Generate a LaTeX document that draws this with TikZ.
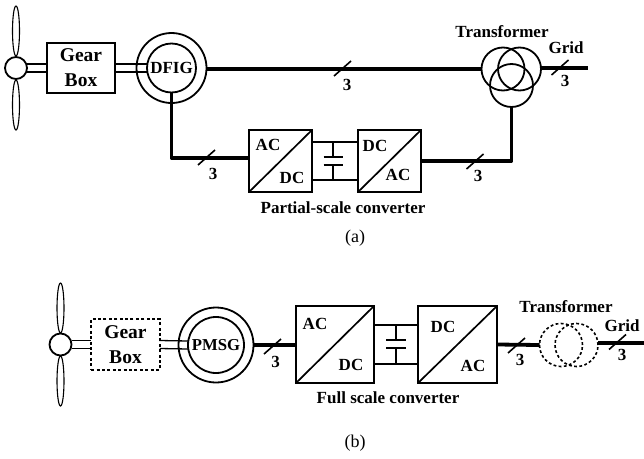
\documentclass[tikz,border=0pt]{standalone}
\usepackage{fontspec}
\setmainfont{Liberation Serif}
\newcommand{\ticknode}[2]{%
  \coordinate (#1) at #2;
  \draw[tickline] ([shift={(-8.5pt,-7.5pt)}]#1) -- ([shift={(8.5pt,7.5pt)}]#1);}
\tikzset{
  thin line/.style={line width=1.7pt},
  tickline/.style={line width=1.6pt},
  shaft/.style={line width=1.3pt},
  power/.style={line width=3.8pt},
  ring/.style={circle,draw,line width=1.8pt,inner sep=0pt,outer sep=0pt},
  dashring/.style={ring,line width=1.6pt,dash pattern=on 2.8pt off 2.4pt},
  blade/.style={ellipse,draw,line width=1.1pt,minimum width=7pt,minimum height=50pt,inner sep=0pt,outer sep=0pt},
  boxn/.style={rectangle,draw,line width=1.8pt,inner sep=0pt,outer sep=0pt,align=center},
  label/.style={font=\fontsize{17}{25}\selectfont\bfseries,inner sep=0pt,align=center},
  caption/.style={font=\fontsize{18}{20}\selectfont,inner sep=0pt}
}
\usetikzlibrary{shapes.geometric}
\begin{document}
\begin{tikzpicture}[x=1pt,y=-1pt]
\useasboundingbox (0,0) rectangle (644,458);
%%% (a)
\node[blade] (bat) at (16,31) {};
\node[blade] (bab) at (16,105) {};
\node[ring,minimum size=22pt] (huba) at (16,68) {};
\node[boxn,minimum width=68pt,minimum height=50pt,font=\fontsize{19.5}{25}\selectfont\bfseries] (gba) at (81,68) {Gear\\Box};
\node[ring,minimum size=70pt] (outa) at (171.5,68) {};
\node[ring,minimum size=49pt,font=\fontsize{17}{20}\selectfont\bfseries] (dfig) at (171.5,68) {DFIG};
\draw[shaft] ([yshift=4pt]huba.east) -- ([yshift=4pt]gba.west);
\draw[shaft] ([yshift=-4pt]huba.east) -- ([yshift=-4pt]gba.west);
\draw[shaft] ([yshift=4pt]gba.east) -- ([yshift=4pt]dfig.west);
\draw[shaft] ([yshift=-4pt]gba.east) -- ([yshift=-4pt]dfig.west);
\node[ring,minimum size=43pt] (tl) at (503,69) {};
\node[ring,minimum size=43pt] (tr) at (519.5,69) {};
\node[ring,minimum size=43pt] (tb) at (511.5,85.5) {};
\coordinate (grida) at (588,68);
\draw[power] (outa.east |- tl.west) -- (tl.west);
\draw[power] (tr.east |- grida) -- (grida);
\node[boxn,minimum width=63pt,minimum height=62pt] (c1) at (280.5,161) {};
\node[boxn,minimum width=63pt,minimum height=62pt] (c2) at (389.5,161) {};
\draw[thin line] (c1.south west) -- (c1.north east);
\draw[thin line] (c2.south west) -- (c2.north east);
\coordinate (c1in) at ([yshift=3pt]c1.west);
\draw[power,line join=round] (dfig.south) -- (dfig.south |- c1in) -- (c1in);
\draw[power,line join=round] (c2.east) -- (c2.east -| tb.south) -- (tb.south);
\draw[thin line] ([yshift=19pt]c1.east) -- ([yshift=19pt]c2.west);
\draw[thin line] ([yshift=-19pt]c1.east) -- ([yshift=-19pt]c2.west);
\coordinate (capat) at (333,142);
\coordinate (capab) at (333,180);
\coordinate (capa1) at (333,157);
\coordinate (capa2) at (333,165);
\draw[thin line] (capat) -- (capa1);
\draw[thin line] (capab) -- (capa2);
\draw[thin line] ([xshift=-9.5pt]capa1) -- ([xshift=9.5pt]capa1);
\draw[thin line] ([xshift=-9.5pt]capa2) -- ([xshift=9.5pt]capa2);
\ticknode{ta1}{(342.5,68.5)}
\ticknode{ta2}{(560,67.5)}
\ticknode{ta3}{(206.5,157.5)}
\ticknode{ta4}{(475,161.5)}
\node[label] (n1) at (347,85) {3};
\node[label] (n2) at (565,81) {3};
\node[label] (n3) at (213,174) {3};
\node[label] (n4) at (478,176) {3};
\node[label] (ac1) at (268,145) {AC};
\node[label] (dc1) at (292,178) {DC};
\node[label] (dc2) at (375,146) {DC};
\node[label] (ac2) at (398,175) {AC};
\node[label] (tfa) at (502,32) {Transformer};
\node[label] (gra) at (566,48) {Grid};
\node[label] (pc) at (343,208) {Partial-scale converter};
\node[caption] (capA) at (355,238) {(a)};
%%% (b)
\node[blade] (bbt) at (60.5,308) {};
\node[blade] (bbb) at (60.5,381) {};
\node[ring,minimum size=22pt] (hubb) at (60.5,344.5) {};
\node[boxn,dash pattern=on 3pt off 2.4pt,minimum width=68.5pt,minimum height=51pt,font=\fontsize{19.5}{25}\selectfont\bfseries] (gbb) at (125.5,344.5) {Gear\\Box};
\node[ring,minimum size=75pt] (outb) at (216,345) {};
\node[ring,minimum size=56pt,font=\fontsize{16.7}{20}\selectfont\bfseries] (pmsg) at (216,345) {PMSG};
\draw[shaft] ([yshift=4pt]hubb.east) -- ([yshift=4pt]gbb.west);
\draw[shaft] ([yshift=-4pt]hubb.east) -- ([yshift=-4pt]gbb.west);
\draw[shaft] ([yshift=4pt]gbb.east) -- ([yshift=4pt]pmsg.west);
\draw[shaft] ([yshift=-4pt]gbb.east) -- ([yshift=-4pt]pmsg.west);
\node[boxn,minimum width=78pt,minimum height=77pt] (c3) at (335,344.5) {};
\node[boxn,minimum width=79pt,minimum height=77pt] (c4) at (457.5,344.5) {};
\draw[thin line] (c3.south west) -- (c3.north east);
\draw[thin line] (c4.south west) -- (c4.north east);
\draw[power] (outb.east) -- (outb.east -| c3.west);
\draw[thin line] ([yshift=19.5pt]c3.east) -- ([yshift=19.5pt]c4.west);
\draw[thin line] ([yshift=-19.5pt]c3.east) -- ([yshift=-19.5pt]c4.west);
\coordinate (capbt) at (396,325);
\coordinate (capbb) at (396,364);
\coordinate (capb1) at (396,340);
\coordinate (capb2) at (396,348);
\draw[thin line] (capbt) -- (capb1);
\draw[thin line] (capbb) -- (capb2);
\draw[thin line] ([xshift=-10pt]capb1) -- ([xshift=10pt]capb1);
\draw[thin line] ([xshift=-10pt]capb2) -- ([xshift=10pt]capb2);
\node[dashring,minimum size=43pt] (dl) at (561,345) {};
\node[dashring,minimum size=43pt] (dr) at (576.5,345) {};
\coordinate (gridb) at (644,343);
\draw[power] (c4.east) -- (dl.west);
\draw[power] (dr.east |- gridb) -- (gridb);
\ticknode{tb1}{(272.5,346.5)}
\ticknode{tb2}{(516.5,345.5)}
\ticknode{tb3}{(617.5,342)}
\node[label] (n5) at (275.5,362) {3};
\node[label] (n6) at (520,360) {3};
\node[label] (n7) at (622,355) {3};
\node[label] (ac3) at (315,324) {AC};
\node[label] (dc3) at (351,365) {DC};
\node[label] (dc4) at (443,326.5) {DC};
\node[label] (ac4) at (473,366) {AC};
\node[label] (tfb) at (566,307) {Transformer};
\node[label] (grb) at (622,326) {Grid};
\node[label] (fc) at (388,398) {Full scale converter};
\node[caption] (capB) at (355,443) {(b)};
\end{tikzpicture}
\end{document}
